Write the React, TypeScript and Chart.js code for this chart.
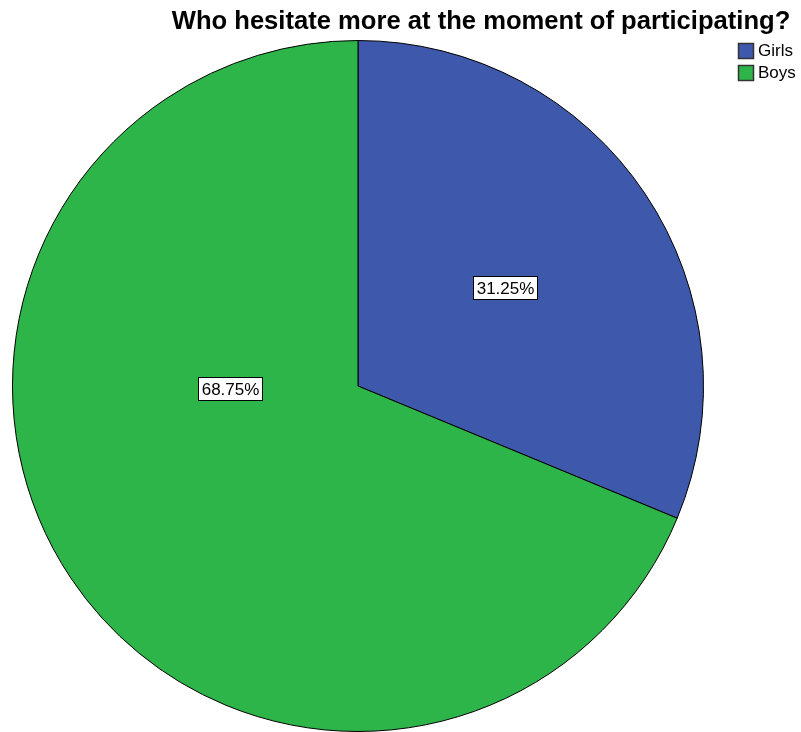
import React, { useEffect, useRef } from "react";
import { Chart, registerables } from "chart.js";

Chart.register(...registerables);

const TITLE = "Who hesitate more at the moment of participating?";
const categories = ["Girls", "Boys"];
const values = [31.25, 68.75];
const valueLabels = ["31.25%", "68.75%"];
const colors = ["#3E58AB", "#2EB54A"];
// label anchor, as fractions of the radius relative to the pie centre
const labelAnchorX = [0.425, -0.37];
const labelAnchorY = [-0.285, 0.008];

const FONT = "'Liberation Sans', Arial, sans-serif";

const overlay = {
  id: "overlay",
  afterDatasetsDraw(chart: any) {
    const ctx = chart.ctx as CanvasRenderingContext2D;
    const meta = chart.getDatasetMeta(0);
    ctx.save();
    // value labels
    meta.data.forEach((arc: any, i: number) => {
      const r = arc.outerRadius;
      const x = arc.x + labelAnchorX[i] * r;
      const y = arc.y + labelAnchorY[i] * r;
      ctx.font = `17px ${FONT}`;
      const w = ctx.measureText(valueLabels[i]).width;
      const bw = Math.round(w + 6);
      const bh = 23;
      const bx = Math.round(x - bw / 2) + 0.5;
      const by = Math.round(y - bh / 2) + 0.5;
      ctx.fillStyle = "#ffffff";
      ctx.fillRect(bx, by, bw, bh);
      ctx.strokeStyle = "#000000";
      ctx.lineWidth = 1;
      ctx.strokeRect(bx, by, bw, bh);
      ctx.fillStyle = "#000000";
      ctx.textAlign = "center";
      ctx.textBaseline = "middle";
      ctx.fillText(valueLabels[i], bx + bw / 2, by + bh / 2 + 1);
    });
    // title
    ctx.font = `bold 25.6px ${FONT}`;
    ctx.fillStyle = "#000000";
    ctx.textAlign = "center";
    ctx.textBaseline = "alphabetic";
    ctx.fillText(TITLE, 481, 28.5);
    // legend
    categories.forEach((c, i) => {
      const sx = 738.5;
      const sy = 43.5 + i * 22;
      ctx.fillStyle = colors[i];
      ctx.fillRect(sx, sy, 15, 15);
      ctx.strokeStyle = "#333333";
      ctx.lineWidth = 1.5;
      ctx.strokeRect(sx, sy, 15, 15);
      ctx.fillStyle = "#000000";
      ctx.font = `17px ${FONT}`;
      ctx.textAlign = "left";
      ctx.textBaseline = "middle";
      ctx.fillText(c, 758, sy + 8);
    });
    ctx.restore();
  },
};

export default function App() {
  const ref = useRef<HTMLCanvasElement>(null);
  useEffect(() => {
    if (!ref.current) return;
    const chart = new Chart(ref.current, {
      type: "pie",
      data: {
        labels: categories,
        datasets: [
          {
            data: values,
            backgroundColor: colors,
            borderColor: "#000000",
            borderWidth: 1,
          },
        ],
      },
      options: {
        animation: false,
        responsive: false,
        maintainAspectRatio: false,
        layout: { padding: { left: 12, right: 97, top: 40, bottom: 0 } },
        plugins: {
          legend: { display: false },
          title: { display: false },
          tooltip: { enabled: false },
        },
      },
      plugins: [overlay],
    });
    return () => chart.destroy();
  }, []);
  return (
    <div style={{ position: "absolute", left: 0, top: 0, width: 801, height: 732, background: "#fff" }}>
      <canvas ref={ref} width={801} height={732} style={{ width: 801, height: 732 }} />
    </div>
  );
}
